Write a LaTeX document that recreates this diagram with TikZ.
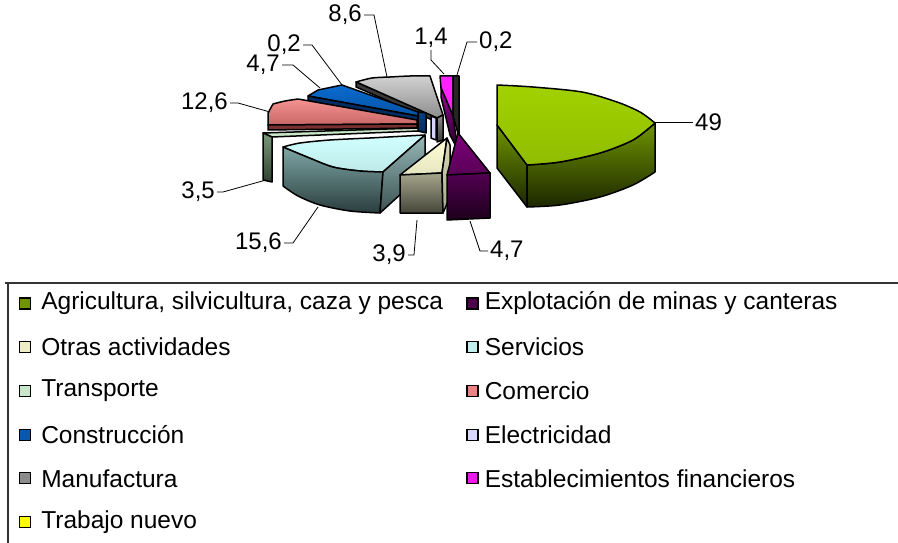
\documentclass[tikz,border=0pt]{standalone}
\usepackage{fontspec}
\setmainfont{Liberation Sans}
\usetikzlibrary{positioning}
\usetikzlibrary{shadings}

\definecolor{agrhi}{HTML}{A2D200}
\definecolor{agrmid}{HTML}{6F9400}
\definecolor{agrlo}{HTML}{1C2700}
\definecolor{exphi}{HTML}{80007C}
\definecolor{explo}{HTML}{1C001C}
\definecolor{otrhi}{HTML}{FFFFD6}
\definecolor{otrmid}{HTML}{A6A68C}
\definecolor{otrlo}{HTML}{45453A}
\definecolor{serhi}{HTML}{D2FFFF}
\definecolor{sermid}{HTML}{7EA6A6}
\definecolor{serlo}{HTML}{2A3D3D}
\definecolor{trahi}{HTML}{C8E6C8}
\definecolor{tramid}{HTML}{7C9A7C}
\definecolor{tralo}{HTML}{2E402E}
\definecolor{comhi}{HTML}{F59292}
\definecolor{commid}{HTML}{C86666}
\definecolor{comlo}{HTML}{7A3030}
\definecolor{conhi}{HTML}{0A6CD0}
\definecolor{conlo}{HTML}{002C62}
\definecolor{elehi}{HTML}{D6D6FF}
\definecolor{manhi}{HTML}{D2D2D2}
\definecolor{manmid}{HTML}{8C8C8C}
\definecolor{manlo}{HTML}{3A3A3A}
\definecolor{esthi}{HTML}{FF22FF}
\definecolor{estmid}{HTML}{A000A0}
\definecolor{trbhi}{HTML}{FFFF00}

\tikzstyle{face}=[draw=black,line width=1.5pt,line join=round]
\tikzstyle{leader}=[draw,line width=0.8pt]
\tikzstyle{numlabel}=[font=\fontsize{24}{28}\selectfont,inner sep=1pt]
\tikzstyle{legbox}=[draw,line width=1.2pt,minimum size=11pt,inner sep=0pt]
\tikzstyle{legtext}=[font=\fontsize{24.5}{29}\selectfont,inner sep=0pt]

\begin{document}
\begin{tikzpicture}[x=1pt,y=-1pt]
\useasboundingbox (0,0) rectangle (898,543);

    % back slices first
    % Manufactura
    \path[face,top color=manhi,bottom color=manmid] (356,82) -- plot[smooth] coordinates {(356,82) (372,78) (390,77) (410,76) (430,76)} -- (443,115) -- (437,118) -- cycle;
    \path[face,fill=manlo] (356,82) -- (437,118) -- (437,122) -- (356,87) -- cycle;
    \path[face,top color=manmid,bottom color=manlo] (437,118) -- (443,115) -- (443,140) -- (437,142) -- cycle;
    % Electricidad
    \path[face,fill=elehi] (431,116) -- (436,118) -- (436,140) -- (431,138) -- cycle;
    % Construccion
    \path[face,top color=conhi,bottom color=conhi!60!conlo] (308,96) -- (318,90) -- (342,85) -- (418,112) -- (418,116) -- cycle;
    \path[face,fill=conlo] (308,96) -- (418,116) -- (418,121) -- (308,101) -- cycle;
    \path[face,top color=conhi!60!black,bottom color=conlo] (418,112) -- (426,113) -- (426,133) -- (418,131) -- cycle;
    % Comercio
    \path[face,top color=comhi,bottom color=commid] (268,125) -- (268,113) -- (273,104) -- plot[smooth] coordinates {(273,104) (285,101) (298,99)} -- (417,120) -- (417,124) -- cycle;
    \path[face,fill=comlo] (268,125) -- (417,124) -- (417,128) -- (268,130) -- cycle;
    % Transporte
    \path[face,fill=trahi] (263,133) -- (418,128) -- (418,131) -- (272,137) -- cycle;
    \path[face,top color=tramid,bottom color=tralo] (263,133) -- (272,137) -- (272,182) -- (263,180) -- cycle;
    % Servicios
    \path[face,top color=serhi,bottom color=serhi!75!sermid] plot[smooth] coordinates {(283,147) (300,143) (330,140) (370,138)} -- (425,135) -- (383,172) -- plot[smooth] coordinates {(383,172) (360,171) (333,167) (307,157) (283,147)} -- cycle;
    \path[face,top color=sermid,bottom color=serlo] plot[smooth] coordinates {(283,147) (307,157) (333,167) (360,171) (383,172)} -- (380,213) -- plot[smooth] coordinates {(380,213) (350,211) (320,205) (298,196) (283,186)} -- cycle;
    \path[face,top color=sermid!80!white,bottom color=serlo!80!sermid] (383,172) -- (425,135) -- (425,172) -- (380,213) -- cycle;
    % Otras actividades
    \path[face,top color=otrhi,bottom color=otrhi!70!otrmid] (447,138) -- (400,175) -- (442,173) -- cycle;
    \path[face,top color=otrmid,bottom color=otrlo] (400,175) -- (442,173) -- (443,213) -- (400,213) -- cycle;
    \path[face,top color=otrhi!60!otrmid,bottom color=otrmid] (442,173) -- (447,138) -- (450,145) -- (450,197) -- (443,213) -- cycle;
    % Establecimientos financieros / Trabajo nuevo
    \path[face,fill=esthi] (440,76) -- (453,76) -- (453,116) -- (441,88) -- cycle;
    \path[face,top color=estmid,bottom color=explo] (441,88) -- (453,116) -- (458,150) -- (450,135) -- (441,97) -- cycle;
    \path[face,fill=black!85] (453,76) -- (459,76) -- (459,137) -- (453,116) -- cycle;
    % Explotacion de minas
    \path[face,top color=exphi,bottom color=exphi!60!explo] (458,133) -- (490,173) -- (447,175) -- cycle;
    \path[face,top color=exphi!55!explo,bottom color=explo] (447,175) -- (490,173) -- (490,218) -- (447,220) -- cycle;
    % Agricultura
    \path[face,top color=agrmid,bottom color=agrlo] (497,125) -- (527,165) -- (527,207) -- (497,168) -- cycle;
    \path[face,top color=agrmid,bottom color=agrlo] plot[smooth] coordinates {(527,165) (560,162) (600,153) (633,140) (655,123)} -- (655,172) -- plot[smooth] coordinates {(655,172) (633,185) (600,197) (560,205) (527,207)} -- cycle;
    \path[face,top color=agrhi,bottom color=agrhi!65!agrmid] (497,125) -- plot[smooth] coordinates {(497,85) (533,87) (582,92) (617,102) (640,112) (655,123)} -- plot[smooth] coordinates {(655,123) (633,140) (600,153) (560,162) (527,165)} -- cycle;

    % value labels with their leaders
    \foreach \name/\ax/\ay/\bx/\by/\cx/\cy/\place/\lbl in {
        v49/655/122/693/122/693/122/right/49,
        vxb/470/221/480/251/488/251/right/{4,7},
        vxc/417/220/414/255/408/255/left/{3,9},
        vxd/318/207/293/243/284/243/left/{15,6},
        vxe/266/180/223/192/217/192/left/{3,5},
        vxf/270/112/238/103/230/103/left/{12,6},
        vxa/320/88/293/65/282/65/left/{4,7},
        vya/342/85/312/45/303/45/left/{0,2},
        v86/387/77/374/15/364/15/left/{8,6},
        v14/444/74/431/60/431/50/above/{1,4},
        vyb/457/75/467/42/477/42/right/{0,2}}
    {
        \coordinate (s\name) at (\ax,\ay);
        \coordinate (k\name) at (\bx,\by);
        \coordinate (t\name) at (\cx,\cy);
        \node[numlabel,\place=1pt of t\name] (\name) {\lbl};
        \path[leader] (s\name) -- (k\name) -- (t\name);
    }

    % legend frame
    \coordinate (fa) at (5,283);
    \coordinate (fb) at (898,283);
    \coordinate (fc) at (8,283);
    \coordinate (fd) at (8,543);
    \draw[black!80,line width=1.5pt] (fa) -- (fb);
    \draw[black!80,line width=1.5pt] (fc) -- (fd);

    % legend entries
    \foreach \name/\y/\col/\txt in {agr/303.5/agrmid/{Agricultura, silvicultura, caza y pesca},
        otr/347.2/otrhi!80!otrmid/{Otras actividades}, tra/390.9/trahi/{Transporte},
        con/434.6/conhi!70!conlo/{Construcción}, man/478.3/manmid/{Manufactura},
        trb/522/trbhi/{Trabajo nuevo}}
    {
        \node[legbox,fill=\col] (b\name) at (25,\y) {};
        \node[legtext,right=10pt of b\name] (l\name) {\txt};
    }
    \foreach \name/\y/\col/\txt in {exp/303.5/exphi!50!explo/{Explotación de minas y canteras},
        ser/347.2/serhi!80!sermid/{Servicios}, com/390.9/comhi!70!commid/{Comercio},
        ele/434.6/elehi/{Electricidad}, est/478.3/esthi!80!estmid/{Establecimientos financieros}}
    {
        \node[legbox,fill=\col] (b\name) at (472.5,\y) {};
        \node[legtext,right=6pt of b\name] (l\name) {\txt};
    }
\end{tikzpicture}
\end{document}
